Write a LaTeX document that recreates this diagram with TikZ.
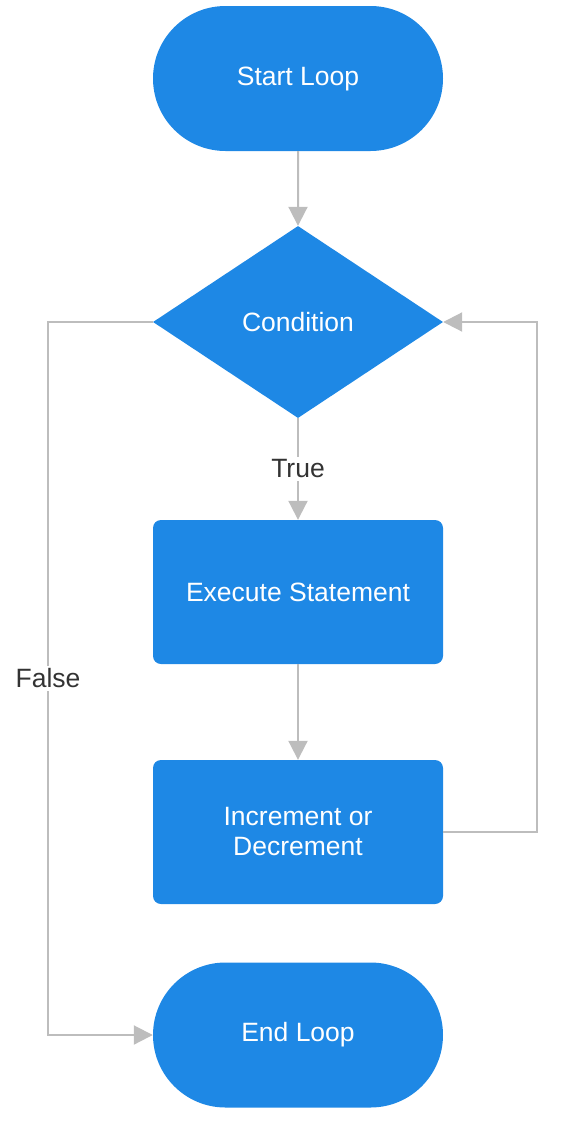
\documentclass[tikz,border=0pt]{standalone}
\usepackage{fontspec}
\setmainfont{Liberation Sans}
\usetikzlibrary{shapes.geometric,shapes.misc,arrows.meta}
\definecolor{fcblue}{HTML}{1E88E5}
\definecolor{fcgrey}{HTML}{BDBDBD}
\definecolor{fctext}{HTML}{333333}
\begin{document}
\begin{tikzpicture}[x=1pt,y=-1pt,
  txt/.style={font=\fontsize{26.5}{30}\selectfont},
  terminal/.style={rounded rectangle, fill=fcblue, minimum width=290pt, minimum height=145pt, inner sep=0pt, text=white, txt},
  decision/.style={diamond, fill=fcblue, minimum width=290pt, minimum height=192pt, inner sep=0pt, text=white, txt},
  process/.style={rectangle, rounded corners=8pt, fill=fcblue, minimum width=290pt, minimum height=144pt, inner sep=0pt, text=white, align=center, txt},
  conn/.style={draw=fcgrey, line width=2pt, -{Triangle[length=19pt,width=19pt]}},
  lbl/.style={fill=white, text=fctext, inner sep=3pt, txt}
]
\useasboundingbox (0,0) rectangle (562,1122);
\node[terminal] (start) at (298,78.5) {Start Loop};
\node[decision] (cond) at (298,322) {Condition};
\node[process] (exec) at (298,592) {Execute Statement};
\node[process] (inc) at (298,832) {Increment or\\Decrement};
\node[terminal] (end) at (298,1035) {End Loop};
\coordinate (rt) at (537,322);
\coordinate (lt) at (48,322);
\draw[conn] (start) -- (cond);
\draw[conn] (cond) -- node[lbl] {True} (exec);
\draw[conn] (exec) -- (inc);
\draw[conn] (inc.east) -| (rt) -- (cond.east);
\draw[conn] (cond.west) -- (lt) |- node[lbl, pos=0.25] {False} (end.west);
\end{tikzpicture}
\end{document}
